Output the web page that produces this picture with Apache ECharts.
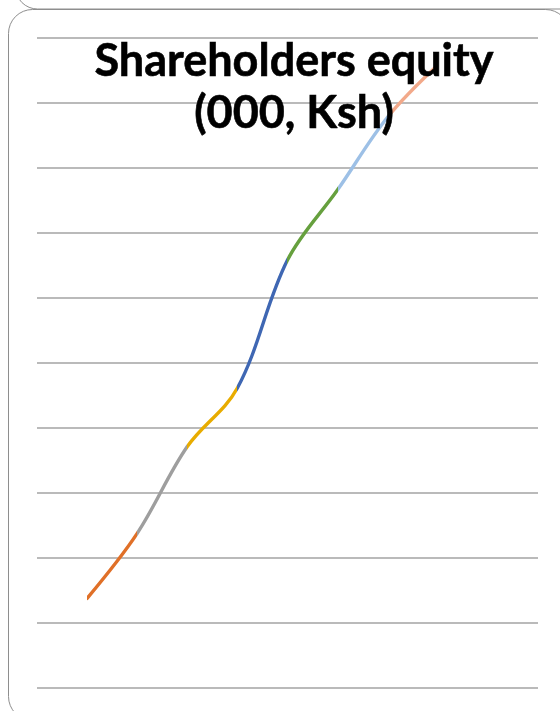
<!DOCTYPE html>
<html>
<head>
<meta charset="utf-8">
<script src="https://cdn.jsdelivr.net/npm/echarts@6/dist/echarts.min.js"></script>
<style>
  html, body { margin: 0; padding: 0; background: #ffffff; }
  #chart { width: 560px; height: 711px; }
</style>
</head>
<body>
<div id="chart"></div>
<script>
// Period index along the hidden horizontal axis
const periods = [1, 2, 3, 4, 5, 6, 7, 8];
// Shareholders equity, thousands of Ksh
const equity = [137500, 237500, 371000, 461000, 658000, 766000, 878000, 958000];
// Colour of the segment that ends at each period (first point has no incoming segment)
const segmentColors = ['#4472C4', '#E07028', '#9E9E9E', '#E8AC00', '#3F67B3', '#66A03E', '#9DC0E6', '#F2A98A'];
const titleLines = ['Shareholders equity', '(000, Ksh)'];

const chart = echarts.init(document.getElementById('chart'), null, { renderer: 'canvas' });

const pieces = [];
for (let i = 1; i < periods.length; i++) {
  pieces.push({ gt: periods[i - 1], lte: periods[i], color: segmentColors[i] });
}

chart.setOption({
  animation: false,
  backgroundColor: '#ffffff',
  title: {
    text: titleLines.join('\n'),
    left: 289,
    textAlign: 'center',
    top: 30,
    textStyle: {
      fontFamily: 'Lato',
      fontWeight: 'bold',
      fontSize: 45,
      lineHeight: 52,
      color: '#000000',
      textBorderColor: '#000000',
      textBorderWidth: 0.6
    }
  },
  grid: { left: 37, right: 22, top: 37.7, bottom: 23.3 },
  xAxis: {
    type: 'value',
    min: 0,
    max: 10,
    show: false
  },
  yAxis: {
    type: 'value',
    min: 0,
    max: 1000000,
    interval: 100000,
    axisLine: { show: false },
    axisTick: { show: false },
    axisLabel: { show: false },
    splitLine: { lineStyle: { color: '#A3A3A3', width: 1.6 } }
  },
  visualMap: {
    show: false,
    type: 'piecewise',
    dimension: 0,
    seriesIndex: 0,
    pieces: pieces
  },
  series: [{
    type: 'line',
    data: periods.map((p, i) => [p, equity[i]]),
    smooth: 0.35,
    showSymbol: false,
    lineStyle: { width: 3.4, cap: 'round' },
    z: 2
  }],
  graphic: [
    {
      type: 'rect',
      silent: true,
      shape: { x: 15.5, y: -700, width: 600, height: 709, r: 22 },
      style: { fill: 'none', stroke: '#8E8E8E', lineWidth: 1 }
    },
    {
      type: 'rect',
      silent: true,
      shape: { x: 8.5, y: 9.5, width: 561, height: 711, r: 24 },
      style: { fill: 'none', stroke: '#8E8E8E', lineWidth: 1 }
    }
  ]
});
</script>
</body>
</html>
